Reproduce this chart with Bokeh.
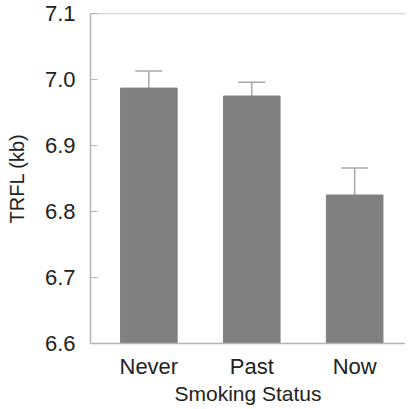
from bokeh.plotting import figure
from bokeh.models import (FixedTicker, Span, Whisker, TeeHead, ColumnDataSource,
                          Range1d, NumeralTickFormatter)
from bokeh.embed import file_html
from bokeh.resources import INLINE

categories = ["Never", "Past", "Now"]
means = [6.987, 6.975, 6.825]
errors = [0.026, 0.021, 0.041]
y_ticks = [6.6, 6.7, 6.8, 6.9, 7.0, 7.1]

positions = [i + 1 for i in range(len(categories))]
upper = [m + e for m, e in zip(means, errors)]
src = ColumnDataSource(dict(x=positions, cat=categories, mean=means, upper=upper))

FONT = "Liberation Sans"
AXIS_GREY = "#b4b4b4"
TEXT = "#222222"

p = figure(
    width=405, height=407,
    x_range=Range1d(0.433, 3.494),
    y_range=Range1d(6.6, 7.1),
    output_backend="svg", toolbar_location=None,
    min_border_left=90, min_border_right=0, min_border_top=13, min_border_bottom=50,
)
p.outline_line_color = None
p.xgrid.visible = False
p.ygrid.visible = False

p.vbar(x="x", top="mean", bottom=6.6, width=0.55, source=src,
       fill_color="#808080", line_color="#808080")

w = Whisker(base="x", lower="mean", upper="upper", source=src,
            line_color="#a8a8a8", line_width=1.5,
            upper_head=TeeHead(size=27, line_color="#a8a8a8", line_width=1.5),
            lower_head=None)
p.add_layout(w)

p.add_layout(Span(location=7.1, dimension="width", line_color=AXIS_GREY, line_width=1.5))

# y axis
p.yaxis.ticker = FixedTicker(ticks=y_ticks)
p.yaxis.formatter = NumeralTickFormatter(format="0.0")
p.yaxis.major_tick_in = 7
p.yaxis.major_tick_out = 0
p.yaxis.minor_tick_line_color = None
p.yaxis.major_tick_line_color = AXIS_GREY
p.yaxis.axis_line_color = AXIS_GREY
p.yaxis.axis_line_width = 1.5
p.yaxis.major_label_standoff = 15
p.yaxis.major_label_text_font = FONT
p.yaxis.major_label_text_font_size = "22px"
p.yaxis.major_label_text_color = TEXT
p.yaxis.axis_label = "TRFL (kb)"
p.yaxis.axis_label_text_font = FONT
p.yaxis.axis_label_text_font_size = "20px"
p.yaxis.axis_label_text_font_style = "normal"
p.yaxis.axis_label_text_color = TEXT
p.yaxis.axis_label_standoff = 14

# x axis
p.xaxis.ticker = FixedTicker(ticks=positions)
p.xaxis.major_label_overrides = {pos: cat for pos, cat in zip(positions, categories)}
p.xaxis.major_tick_in = 0
p.xaxis.major_tick_out = 0
p.xaxis.major_tick_line_color = None
p.xaxis.minor_tick_line_color = None
p.xaxis.axis_line_color = AXIS_GREY
p.xaxis.axis_line_width = 1.5
p.xaxis.major_label_standoff = 10
p.xaxis.major_label_text_font = FONT
p.xaxis.major_label_text_font_size = "22px"
p.xaxis.major_label_text_color = TEXT
p.xaxis.axis_label = "Smoking Status"
p.xaxis.axis_label_text_font = FONT
p.xaxis.axis_label_text_font_size = "21px"
p.xaxis.axis_label_text_font_style = "normal"
p.xaxis.axis_label_text_color = TEXT
p.xaxis.axis_label_standoff = 0

open("out.html", "w").write(file_html(p, INLINE))
